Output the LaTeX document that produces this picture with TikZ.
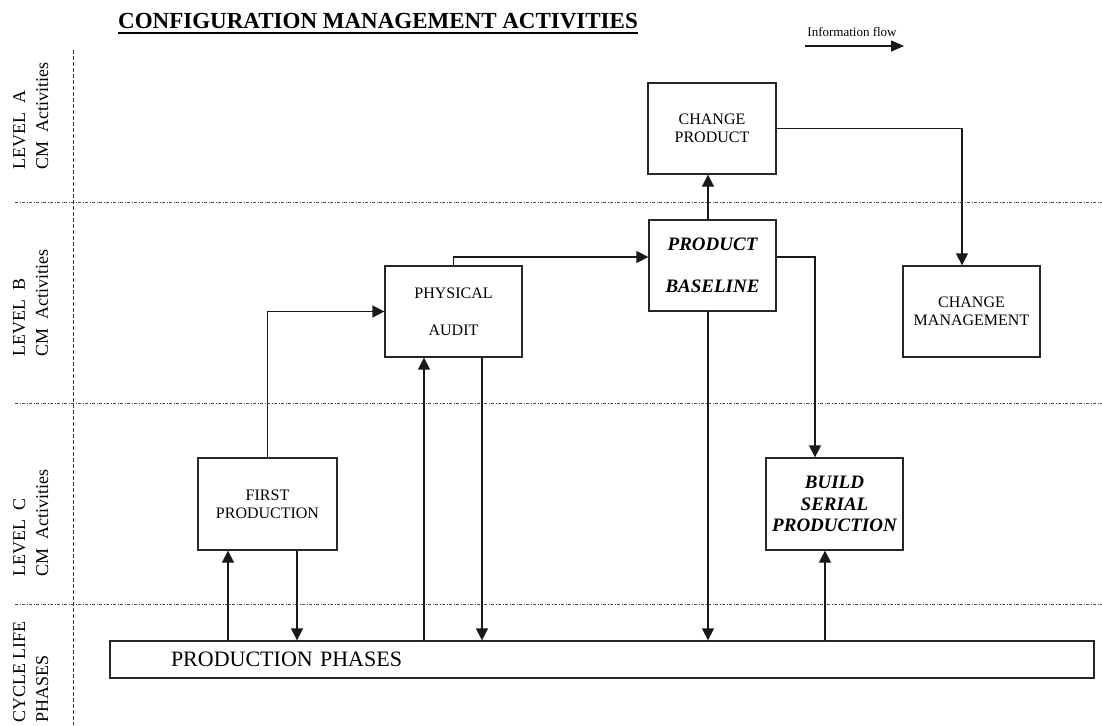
\documentclass[tikz,border=0pt]{standalone}
\usepackage{fontspec}
\setmainfont{Liberation Serif}
\usetikzlibrary{calc, positioning}
\usetikzlibrary{arrows.meta}

\begin{document}
\begin{tikzpicture}[x=1pt, y=-1pt,
  box/.style={draw=black!85, line width=1.3pt, inner sep=0pt, align=center,
    minimum width=\boxw, minimum height=\boxh, font=\fontsize{16}{18}\selectfont},
  boldbox/.style={box, font=\fontsize{19}{21.5}\selectfont\bfseries\itshape},
  arr/.style={-{Triangle[length=12pt,width=12pt]}, line width=1.3pt, black!90},
  sep/.style={black!70, line width=0.8pt, dash pattern=on 3pt off 1.5pt on 1pt off 1.5pt},
  lvl/.style={rotate=90, anchor=north west, inner sep=0pt, align=left,
    font=\fontsize{18}{23}\selectfont}]
\def\boxw{137pt}
\def\boxh{91pt}

\useasboundingbox (0,0) rectangle (1102,725);

\foreach \yy in {202,403,604}
  \draw[sep] (15,\yy) -- (1102,\yy);
\draw[black!80, line width=0.8pt, dash pattern=on 4pt off 2pt] (73,50) -- (73,725);

\node[anchor=base west, inner sep=0pt, font=\fontsize{23}{26}\selectfont\bfseries] (title) at (118,29) {CONFIGURATION MANAGEMENT ACTIVITIES};
\draw[line width=1.6pt] ([yshift=-4pt]title.base west) -- ([yshift=-4pt]title.base east);

\node[anchor=base, inner sep=0pt, font=\fontsize{13}{15}\selectfont] (flowtxt) at (852,37) {Information flow};
\coordinate (flowA) at (805,46);
\coordinate (flowB) at (904,46);
\draw[arr, -{Triangle[length=13pt,width=11pt]}, line width=1.2pt] (flowA) -- (flowB);

\node[lvl] (lvlA) at (13,170) {LEVEL~~A\\CM~~Activities};
\node[lvl] (lvlB) at (13,357) {LEVEL~~B\\CM~~Activities};
\node[lvl] (lvlC) at (13,577) {LEVEL~~C\\CM~~Activities};
\node[lvl] (lvlP) at (13,723) {CYCLE LIFE\\PHASES};

\node[box, minimum width=128pt] (cp) at (712,128.5) {CHANGE\\PRODUCT};
\node[boldbox, minimum width=127pt] (pb) at (712.5,265.5) {PRODUCT\\[20pt]BASELINE};
\node[box] (pa) at (453.5,311.5) {PHYSICAL\\[19pt]AUDIT};
\node[box] (cm) at (971.5,311.5) {CHANGE\\MANAGEMENT};
\node[box, minimum width=139pt, minimum height=92pt] (fp) at (267.5,504) {FIRST\\PRODUCTION};
\node[boldbox, minimum height=92pt] (bsp) at (834.5,504) {BUILD\\SERIAL\\PRODUCTION};
\node[draw=black!85, line width=1.3pt, minimum height=37pt, inner xsep=61pt, inner ysep=0pt,
  text width=862pt, align=left, font=\fontsize{22}{24}\selectfont] (bar) at (602,659.5) {PRODUCTION PHASES};

\coordinate (fpIn) at ([xshift=-39.5pt]fp.south);
\coordinate (fpOut) at ([xshift=29.5pt]fp.south);
\coordinate (paIn) at ([xshift=-29.5pt]pa.south);
\coordinate (paOut) at ([xshift=28.5pt]pa.south);
\coordinate (pbOut) at ([xshift=-4.5pt]pb.south);
\coordinate (pbUp) at ([xshift=-4.5pt]pb.north);
\coordinate (cpDown) at ([xshift=-4pt]cp.south);
\coordinate (pbIn) at ([yshift=8.5pt]pb.west);
\coordinate (pbRight) at ([yshift=8.5pt]pb.east);
\coordinate (bspTop) at ([xshift=-19.5pt]bsp.north);
\coordinate (bspIn) at ([xshift=-9.5pt]bsp.south);
\coordinate (cmTop) at ([xshift=-9.5pt]cm.north);

\draw[arr] (bar.north -| fpIn) -- (fpIn);
\draw[arr] (fpOut) -- (fpOut |- bar.north);
\draw[arr] (bar.north -| paIn) -- (paIn);
\draw[arr] (paOut) -- (paOut |- bar.north);
\draw[arr] (pbOut) -- (pbOut |- bar.north);
\draw[arr] (bar.north -| bspIn) -- (bspIn);
\draw[arr] (fp.north) |- (pa.west);
\draw[arr] (pa.north) |- (pbIn);
\draw[arr] (pbRight) -| (bspTop);
\draw[arr] (pbUp) -- (cpDown);
\draw[arr] (cp.east) -| (cmTop);
\end{tikzpicture}
\end{document}
